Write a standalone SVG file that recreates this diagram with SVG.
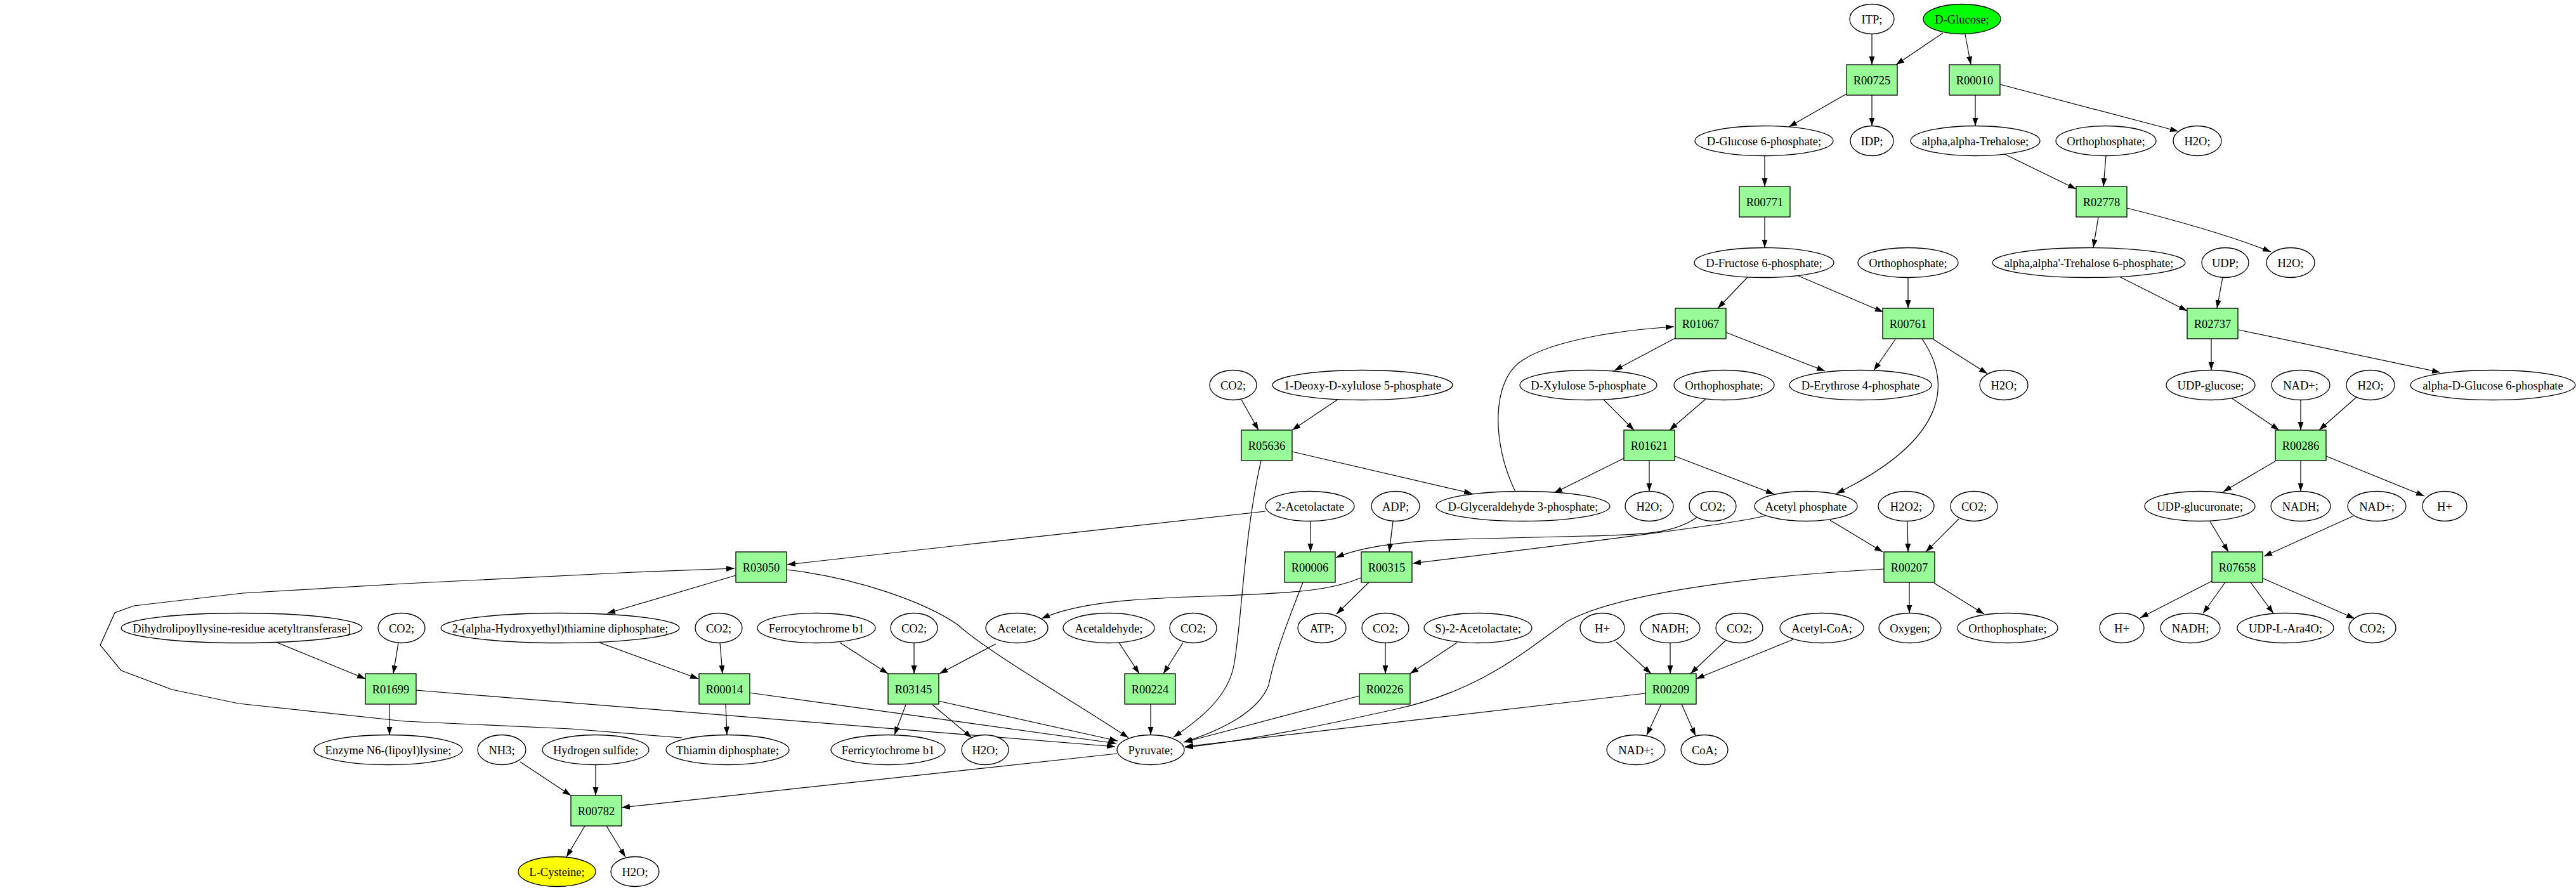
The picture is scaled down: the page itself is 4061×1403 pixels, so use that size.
<svg xmlns="http://www.w3.org/2000/svg" width="4061" height="1403" viewBox="0 0 4061 1403">
<style>
text{font-family:"Liberation Serif","Times New Roman",serif;font-size:18.5px;text-anchor:middle;fill:#000}
.n ellipse{fill:#fff;stroke:#000;stroke-width:1.3}
.r rect{fill:#98fb98;stroke:#000;stroke-width:1.3}
#edges path{fill:none;stroke:#000;stroke-width:1.2;marker-end:url(#a)}
</style>
<defs>
<marker id="a" markerWidth="14" markerHeight="10" refX="13" refY="5" orient="auto" markerUnits="userSpaceOnUse"><path d="M0,0.5 L13,5 L0,9.5 z" fill="#000"/></marker>
</defs>
<rect width="4061" height="1403" fill="#fff"/>
<g id="edges">
<path d="M2951,53.5 L2951,102"/>
<path d="M3063,52 L2989,102"/>
<path d="M3098,54 L3107,102"/>
<path d="M2911,148 L2820,200"/>
<path d="M2951,150 L2951,198.5"/>
<path d="M3114,150 L3114,198.5"/>
<path d="M3153,133 Q3330,180 3434,207"/>
<path d="M2782,245.5 L2782,294"/>
<path d="M3160,243 L3273,298"/>
<path d="M3320,245.5 L3316,294"/>
<path d="M2782,342 L2782,390.5"/>
<path d="M3308,342 L3300,390.5"/>
<path d="M3353,328 Q3500,365 3580,397"/>
<path d="M2756,436 L2708,486"/>
<path d="M2833,434 L2969,492"/>
<path d="M3008,437.5 L3008,486"/>
<path d="M3341,436 L3448,490"/>
<path d="M3504,437 L3495,486"/>
<path d="M2389,775 C2352,700 2350,600 2400,568 C2450,535 2560,520 2639,515"/>
<path d="M2641,533 L2545,584"/>
<path d="M2721,524 L2877,585"/>
<path d="M2988,535 L2954,584"/>
<path d="M3048,535 L3133,589"/>
<path d="M3030,534 C3085,615 3055,700 2895,778"/>
<path d="M3486,534 L3486,583.5"/>
<path d="M3529,520 L3847,587"/>
<path d="M1957,630 L1984,678"/>
<path d="M2110,629 L2037,678"/>
<path d="M2528,630 L2576,678"/>
<path d="M2689,629 L2632,678"/>
<path d="M3517,627 L3593,678"/>
<path d="M3627,630.5 L3627,678"/>
<path d="M3715,626 L3656,678"/>
<path d="M2037,712 L2321,778"/>
<path d="M1988,726 C1960,850 1958,980 1945,1050 C1935,1100 1890,1135 1850,1162"/>
<path d="M2561,722 L2450,777"/>
<path d="M2600,726 L2600,774.5"/>
<path d="M2640,719 L2797,779"/>
<path d="M3587,727 L3505,775"/>
<path d="M3627,726 L3627,774.5"/>
<path d="M3667,719 L3822,782"/>
<path d="M2066,821.5 L2066,870"/>
<path d="M2196,822 L2190,870"/>
<path d="M2676,815 C2640,840 2600,843 2500,845 L2340,849 C2250,851 2160,856 2106,879"/>
<path d="M2783,813 C2740,825 2500,855 2227,888"/>
<path d="M2158,918 L2107,968"/>
<path d="M2145,911 C2100,930 2050,935 1900,940 C1780,944 1700,950 1642,975"/>
<path d="M1995,806 L1241,890"/>
<path d="M1075,1163 L900,1149 L638,1137 L376,1109 L271,1087 L191,1057 L158,1017 L181,966 L211,955 L383,935 L638,920 L1000,902 L1158,896"/>
<path d="M1160,907 L957,967"/>
<path d="M1239,898 C1350,910 1460,950 1510,985 C1560,1030 1700,1110 1779,1163"/>
<path d="M437,1013 L576,1070"/>
<path d="M628,1013 L620,1062"/>
<path d="M614,1110 L614,1158.5"/>
<path d="M655,1088 L1758,1177"/>
<path d="M945,1013 L1101,1070"/>
<path d="M1135,1013 L1139,1062"/>
<path d="M1144,1110 L1146,1158.5"/>
<path d="M1181,1092 L1760,1172"/>
<path d="M1324,1013 L1400,1062"/>
<path d="M1441,1013.5 L1441,1062"/>
<path d="M1570,1015 L1481,1062"/>
<path d="M1428,1111 L1410,1158.5"/>
<path d="M1470,1111 L1532,1163"/>
<path d="M1479,1105 L1762,1168"/>
<path d="M1764,1013 L1796,1062"/>
<path d="M1865,1013 L1834,1062"/>
<path d="M1814,1110 L1814,1158.5"/>
<path d="M2184,1013.5 L2184,1062"/>
<path d="M2297,1013 L2223,1062"/>
<path d="M2054,918 C2030,980 2010,1030 2000,1080 C1985,1120 1930,1150 1866,1170"/>
<path d="M2143,1097 L1867,1170"/>
<path d="M2594,1093 L1868,1177"/>
<path d="M2970,897 C2800,906 2560,930 2470,980 C2400,1030 2330,1090 2200,1118 C2080,1145 1950,1170 1868,1178"/>
<path d="M2885,820 L2968,870"/>
<path d="M3007,821.5 L3008,870"/>
<path d="M3088,818 L3036,870"/>
<path d="M3010,918 L3010,966.5"/>
<path d="M3049,919 L3128,968"/>
<path d="M3484,822 L3513,870"/>
<path d="M3711,813 L3569,877"/>
<path d="M3487,916 L3374,974"/>
<path d="M3508,918 L3473,967"/>
<path d="M3548,918 L3584,967"/>
<path d="M3568,912 L3712,975"/>
<path d="M2548,1012 L2603,1062"/>
<path d="M2633,1013.5 L2633,1062"/>
<path d="M2720,1010 L2665,1062"/>
<path d="M2827,1008 L2674,1070"/>
<path d="M2619,1110 L2596,1159"/>
<path d="M2651,1110 L2673,1160"/>
<path d="M1761,1188 L980,1273"/>
<path d="M820,1201 L900,1254"/>
<path d="M939,1205.5 L939,1254"/>
<path d="M922,1302 L893,1351"/>
<path d="M956,1302 L986,1351"/>
</g>
<g id="n_ITP" class="n"><ellipse cx="2951" cy="30" rx="35" ry="23.5"/><text x="2951" y="36.5">ITP;</text></g>
<g id="n_DGlucose" class="n"><ellipse cx="3093" cy="30" rx="61" ry="23.5" style="fill:#00ff00"/><text x="3093" y="36.5">D-Glucose;</text></g>
<g id="n_DG6P" class="n"><ellipse cx="2781" cy="222" rx="109" ry="23.5"/><text x="2781" y="228.5">D-Glucose 6-phosphate;</text></g>
<g id="n_IDP" class="n"><ellipse cx="2951" cy="222" rx="34" ry="23.5"/><text x="2951" y="228.5">IDP;</text></g>
<g id="n_Trehalose" class="n"><ellipse cx="3114" cy="222" rx="102" ry="23.5"/><text x="3114" y="228.5">alpha,alpha-Trehalose;</text></g>
<g id="n_Ortho1" class="n"><ellipse cx="3320" cy="222" rx="79" ry="23.5"/><text x="3320" y="228.5">Orthophosphate;</text></g>
<g id="n_H2O_1" class="n"><ellipse cx="3464" cy="222" rx="38" ry="23.5"/><text x="3464" y="228.5">H2O;</text></g>
<g id="n_DF6P" class="n"><ellipse cx="2781" cy="414" rx="110" ry="23.5"/><text x="2781" y="420.5">D-Fructose 6-phosphate;</text></g>
<g id="n_Ortho2" class="n"><ellipse cx="3008" cy="414" rx="79" ry="23.5"/><text x="3008" y="420.5">Orthophosphate;</text></g>
<g id="n_Tre6P" class="n"><ellipse cx="3293" cy="414" rx="152" ry="23.5"/><text x="3293" y="420.5">alpha,alpha'-Trehalose 6-phosphate;</text></g>
<g id="n_UDP" class="n"><ellipse cx="3508" cy="414" rx="37" ry="23.5"/><text x="3508" y="420.5">UDP;</text></g>
<g id="n_H2O_2" class="n"><ellipse cx="3611" cy="414" rx="38" ry="23.5"/><text x="3611" y="420.5">H2O;</text></g>
<g id="n_CO2_1" class="n"><ellipse cx="1944" cy="607" rx="37" ry="23.5"/><text x="1944" y="613.5">CO2;</text></g>
<g id="n_DXP" class="n"><ellipse cx="2148" cy="607" rx="142" ry="23.5"/><text x="2148" y="613.5">1-Deoxy-D-xylulose 5-phosphate</text></g>
<g id="n_Xu5P" class="n"><ellipse cx="2504" cy="607" rx="108" ry="23.5"/><text x="2504" y="613.5">D-Xylulose 5-phosphate</text></g>
<g id="n_Ortho3" class="n"><ellipse cx="2718" cy="607" rx="79" ry="23.5"/><text x="2718" y="613.5">Orthophosphate;</text></g>
<g id="n_E4P" class="n"><ellipse cx="2933" cy="607" rx="112" ry="23.5"/><text x="2933" y="613.5">D-Erythrose 4-phosphate</text></g>
<g id="n_H2O_3" class="n"><ellipse cx="3159" cy="607" rx="38" ry="23.5"/><text x="3159" y="613.5">H2O;</text></g>
<g id="n_UDPG" class="n"><ellipse cx="3485" cy="607" rx="70" ry="23.5"/><text x="3485" y="613.5">UDP-glucose;</text></g>
<g id="n_NAD_1" class="n"><ellipse cx="3627" cy="607" rx="46" ry="23.5"/><text x="3627" y="613.5">NAD+;</text></g>
<g id="n_H2O_4" class="n"><ellipse cx="3737" cy="607" rx="38" ry="23.5"/><text x="3737" y="613.5">H2O;</text></g>
<g id="n_aG6P" class="n"><ellipse cx="3930" cy="607" rx="130" ry="23.5"/><text x="3930" y="613.5">alpha-D-Glucose 6-phosphate</text></g>
<g id="n_Acetolactate" class="n"><ellipse cx="2065" cy="798" rx="70" ry="23.5"/><text x="2065" y="804.5">2-Acetolactate</text></g>
<g id="n_ADP" class="n"><ellipse cx="2200" cy="798" rx="38" ry="23.5"/><text x="2200" y="804.5">ADP;</text></g>
<g id="n_GAP" class="n"><ellipse cx="2401" cy="798" rx="137" ry="23.5"/><text x="2401" y="804.5">D-Glyceraldehyde 3-phosphate;</text></g>
<g id="n_H2O_5" class="n"><ellipse cx="2600" cy="798" rx="38" ry="23.5"/><text x="2600" y="804.5">H2O;</text></g>
<g id="n_CO2_2" class="n"><ellipse cx="2700" cy="798" rx="37" ry="23.5"/><text x="2700" y="804.5">CO2;</text></g>
<g id="n_AcP" class="n"><ellipse cx="2847" cy="798" rx="81" ry="23.5"/><text x="2847" y="804.5">Acetyl phosphate</text></g>
<g id="n_H2O2" class="n"><ellipse cx="3005" cy="798" rx="44" ry="23.5"/><text x="3005" y="804.5">H2O2;</text></g>
<g id="n_CO2_3" class="n"><ellipse cx="3112" cy="798" rx="37" ry="23.5"/><text x="3112" y="804.5">CO2;</text></g>
<g id="n_UDPGA" class="n"><ellipse cx="3468" cy="798" rx="87" ry="23.5"/><text x="3468" y="804.5">UDP-glucuronate;</text></g>
<g id="n_NADH_1" class="n"><ellipse cx="3627" cy="798" rx="47" ry="23.5"/><text x="3627" y="804.5">NADH;</text></g>
<g id="n_NAD_2" class="n"><ellipse cx="3747" cy="798" rx="46" ry="23.5"/><text x="3747" y="804.5">NAD+;</text></g>
<g id="n_H_1" class="n"><ellipse cx="3854" cy="798" rx="35" ry="23.5"/><text x="3854" y="804.5">H+</text></g>
<g id="n_Dihydro" class="n"><ellipse cx="381" cy="990" rx="190" ry="23.5"/><text x="381" y="996.5">Dihydrolipoyllysine-residue acetyltransferase]</text></g>
<g id="n_CO2_4" class="n"><ellipse cx="633" cy="990" rx="37" ry="23.5"/><text x="633" y="996.5">CO2;</text></g>
<g id="n_HETPP" class="n"><ellipse cx="883" cy="990" rx="188" ry="23.5"/><text x="883" y="996.5">2-(alpha-Hydroxyethyl)thiamine diphosphate;</text></g>
<g id="n_CO2_5" class="n"><ellipse cx="1133" cy="990" rx="37" ry="23.5"/><text x="1133" y="996.5">CO2;</text></g>
<g id="n_Ferro" class="n"><ellipse cx="1287" cy="990" rx="93" ry="23.5"/><text x="1287" y="996.5">Ferrocytochrome b1</text></g>
<g id="n_CO2_6" class="n"><ellipse cx="1441" cy="990" rx="37" ry="23.5"/><text x="1441" y="996.5">CO2;</text></g>
<g id="n_Acetate" class="n"><ellipse cx="1603" cy="990" rx="49" ry="23.5"/><text x="1603" y="996.5">Acetate;</text></g>
<g id="n_Acetaldehyde" class="n"><ellipse cx="1748" cy="990" rx="72" ry="23.5"/><text x="1748" y="996.5">Acetaldehyde;</text></g>
<g id="n_CO2_7" class="n"><ellipse cx="1881" cy="990" rx="37" ry="23.5"/><text x="1881" y="996.5">CO2;</text></g>
<g id="n_ATP" class="n"><ellipse cx="2084" cy="990" rx="38" ry="23.5"/><text x="2084" y="996.5">ATP;</text></g>
<g id="n_CO2_8" class="n"><ellipse cx="2184" cy="990" rx="37" ry="23.5"/><text x="2184" y="996.5">CO2;</text></g>
<g id="n_SAcetolactate" class="n"><ellipse cx="2330" cy="990" rx="85" ry="23.5"/><text x="2330" y="996.5">S)-2-Acetolactate;</text></g>
<g id="n_H_2" class="n"><ellipse cx="2526" cy="990" rx="35" ry="23.5"/><text x="2526" y="996.5">H+</text></g>
<g id="n_NADH_2" class="n"><ellipse cx="2633" cy="990" rx="47" ry="23.5"/><text x="2633" y="996.5">NADH;</text></g>
<g id="n_CO2_9" class="n"><ellipse cx="2742" cy="990" rx="37" ry="23.5"/><text x="2742" y="996.5">CO2;</text></g>
<g id="n_AcCoA" class="n"><ellipse cx="2872" cy="990" rx="66" ry="23.5"/><text x="2872" y="996.5">Acetyl-CoA;</text></g>
<g id="n_Oxygen" class="n"><ellipse cx="3011" cy="990" rx="49" ry="23.5"/><text x="3011" y="996.5">Oxygen;</text></g>
<g id="n_Ortho4" class="n"><ellipse cx="3165" cy="990" rx="79" ry="23.5"/><text x="3165" y="996.5">Orthophosphate;</text></g>
<g id="n_H_3" class="n"><ellipse cx="3345" cy="990" rx="35" ry="23.5"/><text x="3345" y="996.5">H+</text></g>
<g id="n_NADH_3" class="n"><ellipse cx="3453" cy="990" rx="47" ry="23.5"/><text x="3453" y="996.5">NADH;</text></g>
<g id="n_UDPAra" class="n"><ellipse cx="3603" cy="990" rx="76" ry="23.5"/><text x="3603" y="996.5">UDP-L-Ara4O;</text></g>
<g id="n_CO2_10" class="n"><ellipse cx="3740" cy="990" rx="37" ry="23.5"/><text x="3740" y="996.5">CO2;</text></g>
<g id="n_Lipoyl" class="n"><ellipse cx="612" cy="1182" rx="117" ry="23.5"/><text x="612" y="1188.5">Enzyme N6-(lipoyl)lysine;</text></g>
<g id="n_NH3" class="n"><ellipse cx="791" cy="1182" rx="38" ry="23.5"/><text x="791" y="1188.5">NH3;</text></g>
<g id="n_H2S" class="n"><ellipse cx="939" cy="1182" rx="84" ry="23.5"/><text x="939" y="1188.5">Hydrogen sulfide;</text></g>
<g id="n_TPP" class="n"><ellipse cx="1147" cy="1182" rx="97" ry="23.5"/><text x="1147" y="1188.5">Thiamin diphosphate;</text></g>
<g id="n_Ferri" class="n"><ellipse cx="1400" cy="1182" rx="90" ry="23.5"/><text x="1400" y="1188.5">Ferricytochrome b1</text></g>
<g id="n_H2O_6" class="n"><ellipse cx="1553" cy="1182" rx="37" ry="23.5"/><text x="1553" y="1188.5">H2O;</text></g>
<g id="n_Pyruvate" class="n"><ellipse cx="1814" cy="1182" rx="53" ry="23.5"/><text x="1814" y="1188.5">Pyruvate;</text></g>
<g id="n_NAD_3" class="n"><ellipse cx="2579" cy="1182" rx="46" ry="23.5"/><text x="2579" y="1188.5">NAD+;</text></g>
<g id="n_CoA" class="n"><ellipse cx="2687" cy="1182" rx="37" ry="23.5"/><text x="2687" y="1188.5">CoA;</text></g>
<g id="n_Cys" class="n"><ellipse cx="878" cy="1374" rx="61" ry="23.5" style="fill:#ffff00"/><text x="878" y="1380.5">L-Cysteine;</text></g>
<g id="n_H2O_7" class="n"><ellipse cx="1001" cy="1374" rx="38" ry="23.5"/><text x="1001" y="1380.5">H2O;</text></g>
<g id="R00725" class="r"><rect x="2911" y="102" width="80" height="48"/><text x="2951" y="132.5">R00725</text></g>
<g id="R00010" class="r"><rect x="3073" y="102" width="80" height="48"/><text x="3113" y="132.5">R00010</text></g>
<g id="R00771" class="r"><rect x="2742" y="294" width="80" height="48"/><text x="2782" y="324.5">R00771</text></g>
<g id="R02778" class="r"><rect x="3273" y="294" width="80" height="48"/><text x="3313" y="324.5">R02778</text></g>
<g id="R01067" class="r"><rect x="2641" y="486" width="80" height="48"/><text x="2681" y="516.5">R01067</text></g>
<g id="R00761" class="r"><rect x="2968" y="486" width="80" height="48"/><text x="3008" y="516.5">R00761</text></g>
<g id="R02737" class="r"><rect x="3448" y="486" width="80" height="48"/><text x="3488" y="516.5">R02737</text></g>
<g id="R05636" class="r"><rect x="1957" y="678" width="80" height="48"/><text x="1997" y="708.5">R05636</text></g>
<g id="R01621" class="r"><rect x="2560" y="678" width="80" height="48"/><text x="2600" y="708.5">R01621</text></g>
<g id="R00286" class="r"><rect x="3587" y="678" width="80" height="48"/><text x="3627" y="708.5">R00286</text></g>
<g id="R03050" class="r"><rect x="1160" y="870" width="80" height="48"/><text x="1200" y="900.5">R03050</text></g>
<g id="R00006" class="r"><rect x="2025" y="870" width="80" height="48"/><text x="2065" y="900.5">R00006</text></g>
<g id="R00315" class="r"><rect x="2146" y="870" width="80" height="48"/><text x="2186" y="900.5">R00315</text></g>
<g id="R00207" class="r"><rect x="2970" y="870" width="80" height="48"/><text x="3010" y="900.5">R00207</text></g>
<g id="R07658" class="r"><rect x="3487" y="870" width="80" height="48"/><text x="3527" y="900.5">R07658</text></g>
<g id="R01699" class="r"><rect x="576" y="1062" width="80" height="48"/><text x="616" y="1092.5">R01699</text></g>
<g id="R00014" class="r"><rect x="1102" y="1062" width="80" height="48"/><text x="1142" y="1092.5">R00014</text></g>
<g id="R03145" class="r"><rect x="1400" y="1062" width="80" height="48"/><text x="1440" y="1092.5">R03145</text></g>
<g id="R00224" class="r"><rect x="1773" y="1062" width="80" height="48"/><text x="1813" y="1092.5">R00224</text></g>
<g id="R00226" class="r"><rect x="2143" y="1062" width="80" height="48"/><text x="2183" y="1092.5">R00226</text></g>
<g id="R00209" class="r"><rect x="2594" y="1062" width="80" height="48"/><text x="2634" y="1092.5">R00209</text></g>
<g id="R00782" class="r"><rect x="900" y="1254" width="80" height="48"/><text x="940" y="1284.5">R00782</text></g>
</svg>
